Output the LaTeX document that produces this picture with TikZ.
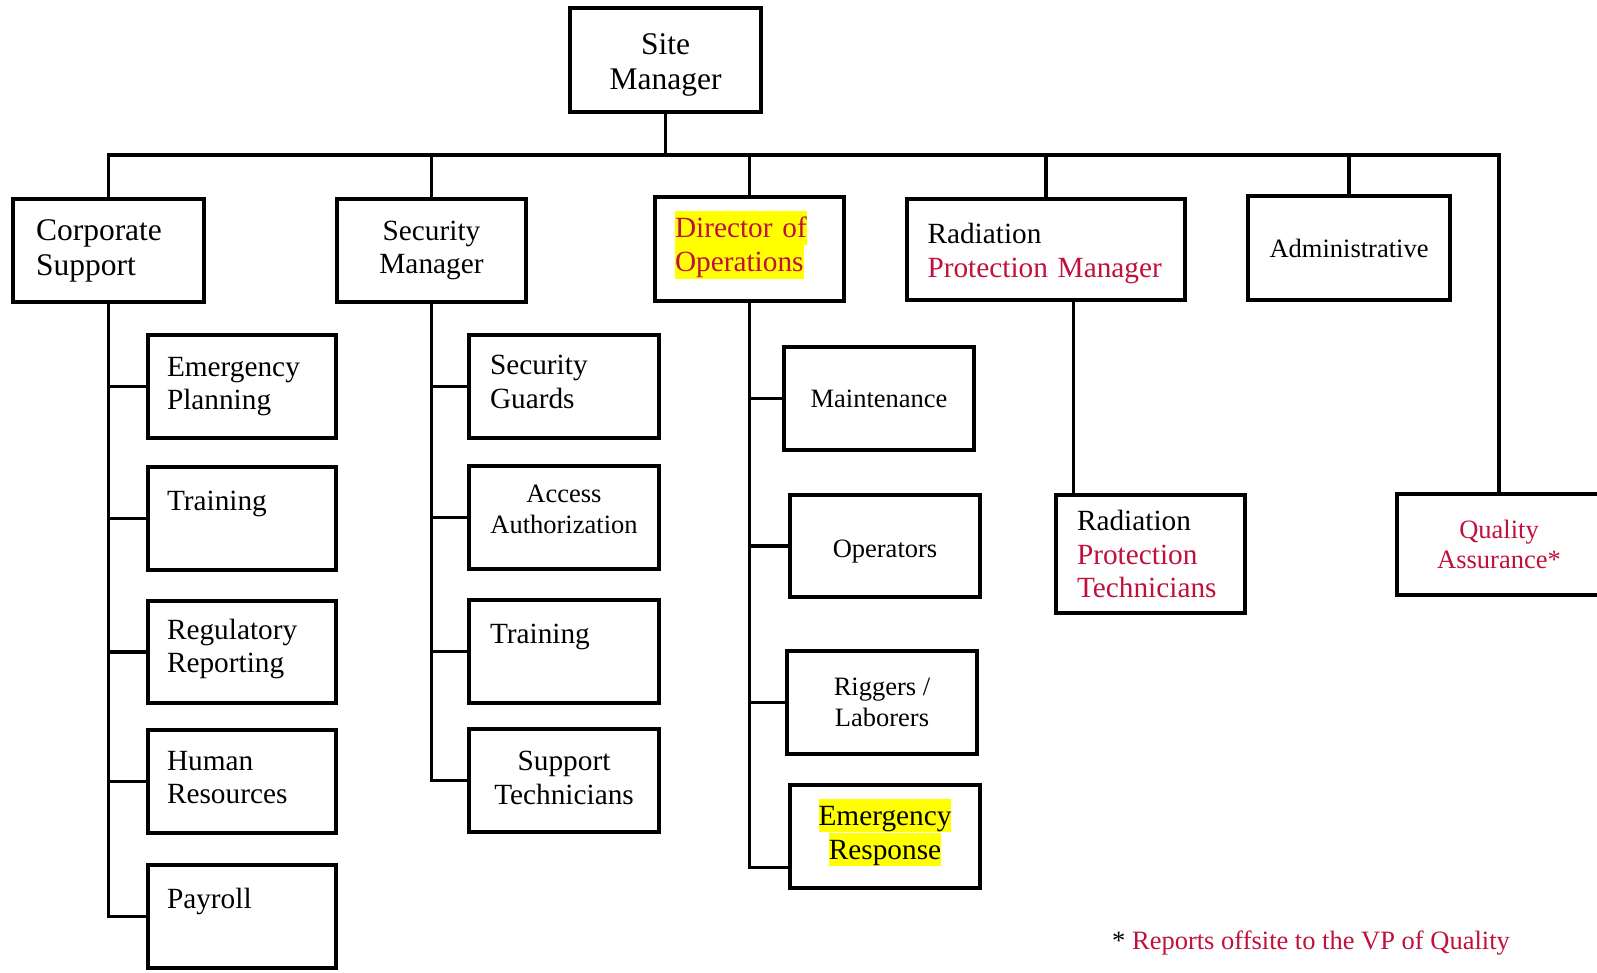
\documentclass[tikz,border=0pt]{standalone}
\usepackage{fontspec}
\setmainfont{Liberation Serif}
\usepackage{tikz}
\usetikzlibrary{calc}
\definecolor{rred}{HTML}{C0103C}
\definecolor{hlyellow}{HTML}{FFFF00}
\newcommand{\orgbig}{\fontsize{31.5pt}{35pt}\selectfont}
\newcommand{\orgmid}{\fontsize{29.3pt}{33.6pt}\selectfont}
\newcommand{\orgsml}{\fontsize{26.5pt}{30.5pt}\selectfont}
\newcommand{\hlline}[1]{{\setlength{\fboxsep}{0pt}\colorbox{hlyellow}{\rule[-7pt]{0pt}{33.5pt}#1}}}
% invisible struts to nudge a text block up (\lowerby) or down (\upperby)
\newcommand{\lowerby}[1]{\rule[-#1]{0pt}{0pt}}
\newcommand{\upperby}[1]{\rule{0pt}{#1}}
\tikzset{
  unitbox/.style 2 args = {draw=black, line width=4.5pt, minimum width=#1,
                           minimum height=#2, inner ysep=0pt},
  leftbox/.style 2 args = {align=left, inner xsep=#1, text width=#2},
  midbox/.style         = {align=center, inner xsep=0pt},
  conn/.style           = {draw=black, line width=3.2pt},
}

\begin{document}
\begin{tikzpicture}[x=1pt, y=-1pt]
  \useasboundingbox (0,0) rectangle (1597,972);
  % top level
  \node[unitbox={191pt}{104pt}, midbox, font=\orgbig] (SM) at (665.5,60) {\upperby{30pt}Site\\Manager};
  \node[unitbox={191pt}{103pt}, leftbox={23pt}{145pt}, font=\orgbig] (CS) at (108.5,250.5) {Corporate\\Support};
  \node[unitbox={189pt}{103pt}, midbox, font=\orgmid] (SecM) at (431.5,250.5) {Security\\Manager};
  \node[unitbox={189pt}{104pt}, leftbox={20pt}{149pt}, font=\orgmid] (DO) at (749.5,249)
    {\hlline{\color{rred}Director of}\\\hlline{\color{rred}Operations}\lowerby{15pt}};
  \node[unitbox={278pt}{101pt}, leftbox={20.5pt}{237pt}, font=\orgmid] (RPM) at (1046,249.5)
    {\upperby{28pt}Radiation\\\textcolor{rred}{Protection Manager}};
  \node[unitbox={202pt}{104pt}, midbox, font=\orgsml] (ADM) at (1349,248) {Administrative};
  % corporate support
  \node[unitbox={188pt}{103pt}, leftbox={19pt}{150pt}, font=\orgmid] (EP) at (242,386.5) {Emergency\\Planning};
  \node[unitbox={188pt}{103pt}, leftbox={19pt}{150pt}, font=\orgmid] (TRc) at (242,518.5) {\upperby{27pt}Training\\\strut};
  \node[unitbox={188pt}{102pt}, leftbox={19pt}{150pt}, font=\orgmid] (RR) at (242,652) {Regulatory\\Reporting\lowerby{12pt}};
  \node[unitbox={188pt}{103pt}, leftbox={19pt}{150pt}, font=\orgmid] (HR) at (242,781.5) {Human\\Resources\lowerby{8pt}};
  \node[unitbox={188pt}{103pt}, leftbox={19pt}{150pt}, font=\orgmid] (PY) at (242,916.5) {\upperby{27pt}Payroll\\\strut};
  % security
  \node[unitbox={190pt}{103pt}, leftbox={21pt}{148pt}, font=\orgmid] (SG) at (564,386.5) {Security\\Guards\lowerby{10pt}};
  \node[unitbox={190pt}{103pt}, midbox, font=\orgsml] (AA) at (564,517.5) {Access\\Authorization\\[-14pt]\mbox{}};
  \node[unitbox={190pt}{103pt}, leftbox={21pt}{148pt}, font=\orgmid] (TRs) at (564,651.5) {\upperby{27pt}Training\\\strut};
  \node[unitbox={190pt}{103pt}, midbox, font=\orgmid] (ST) at (564,780.5) {Support\\Technicians\lowerby{6pt}};
  % operations
  \node[unitbox={190pt}{103pt}, midbox, font=\orgsml] (MT) at (879,398.5) {Maintenance};
  \node[unitbox={190pt}{102pt}, midbox, font=\orgsml] (OP) at (885,546) {\upperby{28pt}Operators};
  \node[unitbox={190pt}{103pt}, midbox, font=\orgsml] (RL) at (882,702.5) {Riggers /\\Laborers};
  \node[unitbox={190pt}{103pt}, midbox, font=\orgmid] (ER) at (885,836.5)
    {\hlline{Emergency}\\\hlline{Response}\lowerby{15pt}};
  % radiation protection, quality
  \node[unitbox={189pt}{118pt}, leftbox={21pt}{147pt}, font=\orgmid] (RPT) at (1150.5,554)
    {Radiation\\\textcolor{rred}{Protection}\\\textcolor{rred}{Technicians}};
  \node[unitbox={204pt}{101pt}, midbox, font=\orgsml, text=rred] (QA) at (1499,544.5) {Quality\\Assurance*};
  \node[anchor=base west, inner sep=0pt, font=\orgsml] (note) at (1112,949)
    {*~\textcolor{rred}{Reports offsite to the VP of Quality}};
  % connectors
  \coordinate (bus) at (665.5,155);
  \coordinate (erin) at ($(ER.south west)!0.215!(ER.north west)$);
  \coordinate (rptin) at ($(RPT.north west)+(20,0)$);
  \draw[conn] (CS.north) -- (CS.north |- bus) -- (QA.north |- bus) -- (QA.north);
  \draw[conn] (SM.south) -- (SM.south |- bus);
  \draw[conn] (SecM.north) -- (SecM.north |- bus);
  \draw[conn] (DO.north) -- (DO.north |- bus);
  \draw[conn] (RPM.north) -- (RPM.north |- bus);
  \draw[conn] (ADM.north) -- (ADM.north |- bus);
  \draw[conn] (CS.south) -- (CS.south |- PY.west) -- (PY.west);
  \draw[conn] (CS.south |- EP.west) -- (EP.west);
  \draw[conn] (CS.south |- TRc.west) -- (TRc.west);
  \draw[conn] (CS.south |- RR.west) -- (RR.west);
  \draw[conn] (CS.south |- HR.west) -- (HR.west);
  \draw[conn] (SecM.south) -- (SecM.south |- ST.west) -- (ST.west);
  \draw[conn] (SecM.south |- SG.west) -- (SG.west);
  \draw[conn] (SecM.south |- AA.west) -- (AA.west);
  \draw[conn] (SecM.south |- TRs.west) -- (TRs.west);
  \draw[conn] (DO.south) -- (DO.south |- erin) -- (erin);
  \draw[conn] (DO.south |- MT.west) -- (MT.west);
  \draw[conn] (DO.south |- OP.west) -- (OP.west);
  \draw[conn] (DO.south |- RL.west) -- (RL.west);
  \draw[conn] (rptin |- RPM.south) -- (rptin);
\end{tikzpicture}
\end{document}
